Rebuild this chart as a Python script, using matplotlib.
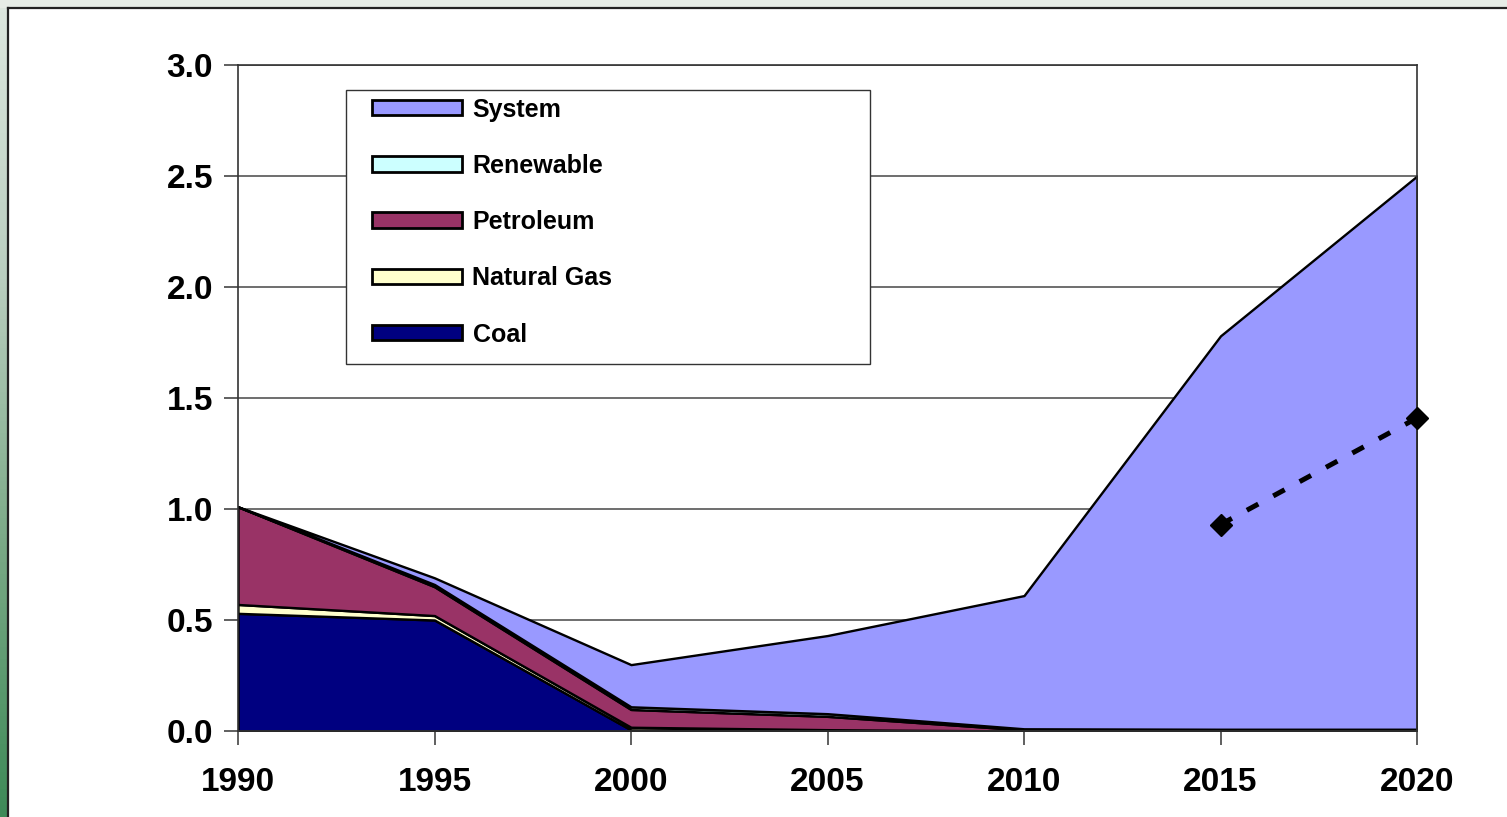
import matplotlib.pyplot as plt
import numpy as np
from matplotlib.patches import Patch, Rectangle
from matplotlib.colors import LinearSegmentedColormap
from matplotlib.legend_handler import HandlerPatch

years = [1990, 1995, 2000, 2005, 2010, 2015, 2020]
coal = [0.53, 0.50, 0.005, 0.0, 0.0, 0.0, 0.0]
natural_gas = [0.04, 0.02, 0.012, 0.006, 0.0, 0.0, 0.0]
petroleum = [0.44, 0.13, 0.08, 0.06, 0.005, 0.0, 0.0]
renewable = [0.0, 0.01, 0.012, 0.012, 0.005, 0.008, 0.008]
system = [0.0, 0.03, 0.19, 0.352, 0.60, 1.772, 2.492]
target_years = [2015, 2020]
target = [0.93, 1.41]

labels = ['Coal', 'Natural Gas', 'Petroleum', 'Renewable', 'System']
colors = ['#000080', '#FFFFCC', '#993366', '#CCFFFF', '#9999FF']

plt.rcParams['font.family'] = ['Liberation Sans', 'DejaVu Sans']

fig = plt.figure(figsize=(15.07, 8.17), dpi=100)
fig.patch.set_facecolor('white')

# slide frame: light strip on top, green gradient on the left
fig.patches.append(Rectangle((0, 1 - 8 / 817), 1, 8 / 817, transform=fig.transFigure,
                             facecolor='#E6ECE6', edgecolor='none', zorder=0))
gax = fig.add_axes([0, 0, 7 / 1507, 1 - 8 / 817])
gcm = LinearSegmentedColormap.from_list('g', ['#DCE6DE', '#B9CEBF', '#7AA986', '#3E8A58'])
gax.imshow(np.linspace(0, 1, 200).reshape(-1, 1), aspect='auto', cmap=gcm)
gax.axis('off')
fig.add_artist(plt.Line2D([7.5 / 1507, 7.5 / 1507], [0, 1 - 7.5 / 817], color='#222222', lw=1.6))
fig.add_artist(plt.Line2D([7.5 / 1507, 1], [1 - 7.5 / 817, 1 - 7.5 / 817], color='#222222', lw=1.6))

ax = fig.add_axes([238 / 1507, 1 - 731 / 817, (1417 - 238) / 1507, (731 - 65) / 817])
ax.stackplot(years, coal, natural_gas, petroleum, renewable, system,
             colors=colors, edgecolor='black', linewidth=1.7, zorder=2)
ax.plot(target_years, target, color='black', linestyle=(0, (2.6, 3.4)), lw=3.6,
        marker='D', markersize=11, zorder=3, clip_on=False)

ax.set_xlim(1990, 2020)
ax.set_ylim(0, 3.0)
ax.set_xticks(years)
ax.set_yticks(np.arange(0, 3.01, 0.5))
ax.set_yticklabels(['%.1f' % v for v in np.arange(0, 3.01, 0.5)])
ax.yaxis.grid(True, color='#555555', lw=1.2, zorder=0)
ax.set_axisbelow(True)
ax.tick_params(axis='both', direction='out', length=10, width=1.2, color='#444444',
               labelsize=24)
ax.tick_params(axis='x', pad=16)
ax.tick_params(axis='y', pad=8)
for t in ax.get_xticklabels() + ax.get_yticklabels():
    t.set_fontweight('bold')
for s in ax.spines.values():
    s.set_color('#333333')
    s.set_linewidth(1.2)

# legend box drawn separately so its size matches the original
ax.add_patch(Rectangle((346 / 1507, 1 - 364 / 817), (870 - 346) / 1507, (364 - 90) / 817,
                       transform=fig.transFigure, facecolor='white', edgecolor='#333333',
                       lw=1.0, zorder=4.5, clip_on=False))


def offset_box(legend, orig_handle, xdescent, ydescent, width, height, fontsize):
    off = 13
    return Rectangle((-xdescent + off, -ydescent), width - off, height)


handles = [Patch(facecolor=colors[i], edgecolor='black', lw=2, label=labels[i]) for i in range(4, -1, -1)]
leg = ax.legend(handles=handles, loc='upper left',
                bbox_to_anchor=(346 / 1507, 1 - 90 / 817, (870 - 346) / 1507, 0),
                bbox_transform=fig.transFigure, mode='expand',
                prop={'weight': 'bold', 'size': 18}, frameon=False,
                handlelength=4.32, handleheight=0.58,
                labelspacing=1.29, borderpad=0.3, handletextpad=0.44, borderaxespad=0,
                handler_map={Patch: HandlerPatch(patch_func=offset_box)})

fig.savefig('out.png', dpi=100)
